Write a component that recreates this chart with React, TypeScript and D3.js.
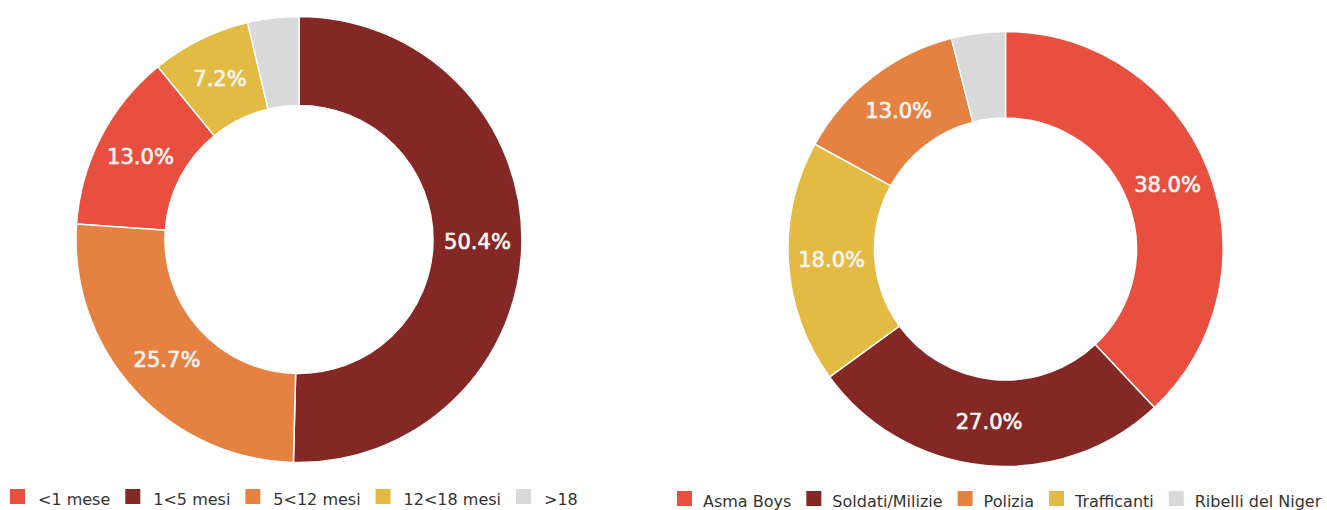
import React from "react";
import * as d3 from "d3";

const leftCategories = ["<1 mese", "1<5 mesi", "5<12 mesi", "12<18 mesi", ">18"];
const leftValues = [13.0, 50.4, 25.7, 7.2, 3.7];
const rightCategories = ["Asma Boys", "Soldati/Milizie", "Polizia", "Trafficanti", "Ribelli del Niger"];
const rightValues = [38.0, 27.0, 13.0, 18.0, 4.0];
const palette = ["#e84f3e", "#832825", "#e58241", "#e3bb43", "#d9d9d9"];

const FONT = "'DejaVu Sans', Verdana, sans-serif";

function textWidth(s: string, size: number): number {
  const c = document.createElement("canvas");
  const ctx = c.getContext("2d")!;
  ctx.font = `${size}px 'DejaVu Sans'`;
  return ctx.measureText(s).width;
}

type DonutProps = {
  cx: number;
  cy: number;
  r: number;
  ir: number;
  cats: string[];
  vals: number[];
  legendX: number;
  legendY: number;
  textOffset: number;
};

function Donut({ cx, cy, r, ir, cats, vals, legendX, legendY, textOffset }: DonutProps) {
  const color = d3.scaleOrdinal<string, string>().domain(cats).range(palette);
  const pie = d3.pie<number>().value((d) => d);
  const arcs = pie(vals);
  const arc = d3.arc<d3.PieArcDatum<number>>().innerRadius(ir).outerRadius(r);
  const total = d3.sum(vals);
  const fmt = d3.format(".1f");

  let x = legendX;
  const items = cats.map((c) => {
    const w = textWidth(c, 16);
    const item = { c, x };
    x += textOffset + w + 15;
    return item;
  });

  return (
    <g>
      <g transform={`translate(${cx},${cy})`}>
        {arcs.map((a, i) => (
          <path key={i} d={arc(a) || ""} fill={color(cats[i])} stroke="#ffffff" strokeWidth={1.5} />
        ))}
        {arcs.map((a, i) => {
          const pct = (a.value / total) * 100;
          if (pct < 5) return null;
          const [lx, ly] = arc.centroid(a);
          return (
            <text
              key={"l" + i}
              x={lx}
              y={ly}
              textAnchor="middle"
              dominantBaseline="central"
              fill="#f7f4f2"
              stroke="#f7f4f2"
              strokeWidth={0.7}
              fontFamily={FONT}
              fontSize={21}
            >
              {fmt(pct)}%
            </text>
          );
        })}
      </g>
      {items.map((it, i) => (
        <g key={"lg" + i}>
          <rect x={it.x} y={legendY - 16} width={15} height={15} fill={color(it.c)} />
          <text x={it.x + textOffset} y={legendY} fontFamily={FONT} fontSize={16} fill="#333333">
            {it.c}
          </text>
        </g>
      ))}
    </g>
  );
}

export default function App() {
  return (
    <svg
      width={1327}
      height={510}
      style={{ position: "absolute", left: 0, top: 0, background: "#ffffff" }}
    >
      <Donut cx={299} cy={239.5} r={223} ir={134} cats={leftCategories} vals={leftValues} legendX={10} legendY={505} textOffset={28} />
      <Donut cx={1005.5} cy={249} r={217.5} ir={131} cats={rightCategories} vals={rightValues} legendX={677} legendY={507} textOffset={26} />
    </svg>
  );
}
